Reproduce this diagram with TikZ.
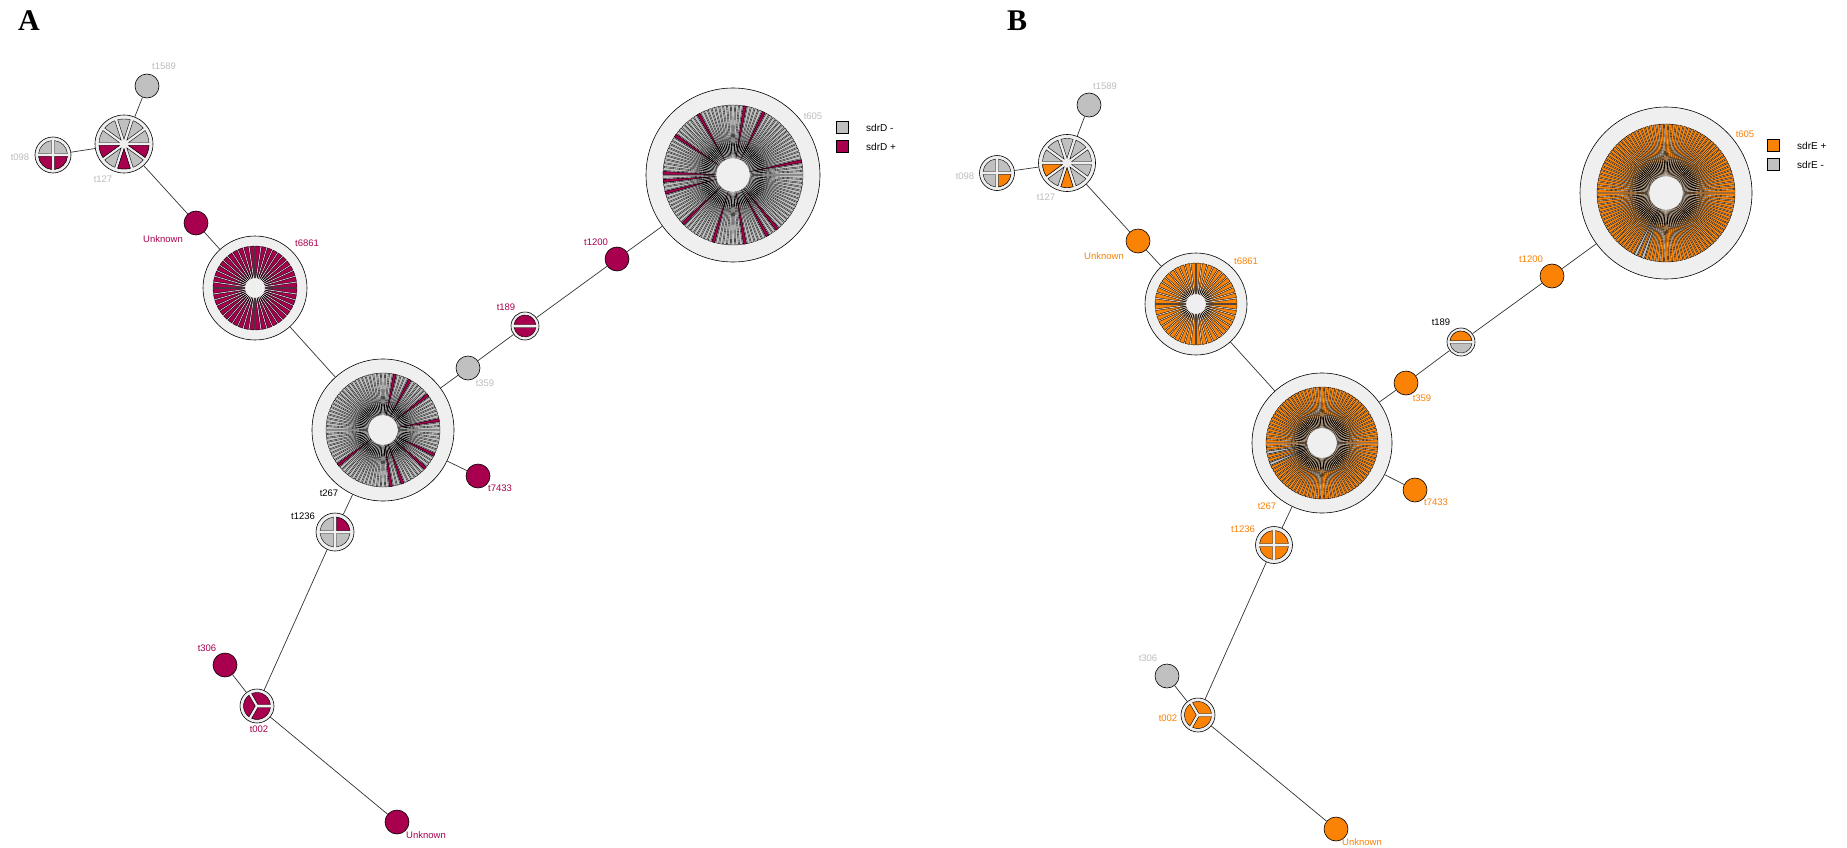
\documentclass[tikz,border=0pt]{standalone}
\usepackage{fontspec}
\setmainfont{Liberation Serif}
\newfontfamily\lblfont{Liberation Sans}
\usetikzlibrary{calc}
\definecolor{mag}{HTML}{A8004E}
\definecolor{org}{HTML}{FA8205}
\definecolor{gry}{HTML}{C0C0C0}
\definecolor{ring}{HTML}{EFEFEF}
\definecolor{lgry}{HTML}{BDBDBD}
\definecolor{edgec}{HTML}{333333}
\tikzset{
 ringnode/.style={circle, draw=black, line width=0.6pt, fill=ring, inner sep=0pt, minimum size=#1},
 dotnode/.style={circle, draw=black, line width=0.6pt, inner sep=0pt, minimum size=24pt},
 lbl/.style={font=\lblfont\fontsize{9.5}{11}\selectfont, inner sep=0pt},
 link/.style={draw=edgec, line width=0.7pt},
 wedgeline/.style={draw=black, line width=0.4pt},
 thinwedge/.style={draw=black, line width=0.35pt},
 panelletter/.style={font=\bfseries\fontsize{30}{30}\selectfont, inner sep=0pt},
 legbox/.style={draw=black, line width=0.5pt, minimum size=12pt, inner sep=0pt},
 legtext/.style={font=\lblfont\fontsize{10}{12}\selectfont, inner sep=0pt, anchor=west},
}
% one wedge: #1 node, #2 index, #3 N, #4 pie radius, #5 gap, #6 colour, #7 start angle
\newcommand\pwedge[7]{%
 \pgfmathsetmacro\pwW{360/#3}%
 \pgfmathsetmacro\pwA{#7+#2*\pwW}%
 \pgfmathsetmacro\pwB{\pwA+\pwW}%
 \pgfmathsetmacro\pwM{\pwA+\pwW/2}%
 \pgfmathsetmacro\pwD{(#5/2)/sin(\pwW/2)}%
 \pgfmathsetmacro\pwE{asin((#5/2)/#4)}%
 \pgfmathsetmacro\pwS{\pwA+\pwE}%
 \pgfmathsetmacro\pwT{\pwB-\pwE}%
 \filldraw[wedgeline, fill=#6] ($(#1)+(\pwM:\pwD)$) -- ($(#1)+(\pwS:#4)$) arc[start angle=\pwS, end angle=\pwT, radius=#4] -- cycle;%
}
% one annular wedge: #1 node, #2 index, #3 N, #4 outer radius, #5 gap, #6 colour, #7 start, #8 inner radius
\newcommand\pseg[8]{%
 \pgfmathsetmacro\pwW{360/#3}%
 \pgfmathsetmacro\pwA{#7+#2*\pwW}%
 \pgfmathsetmacro\pwB{\pwA+\pwW}%
 \pgfmathsetmacro\pwE{asin((#5/2)/#4)}%
 \pgfmathsetmacro\pwI{asin((#5/2)/#8)}%
 \pgfmathsetmacro\pwS{\pwA+\pwE}%
 \pgfmathsetmacro\pwT{\pwB-\pwE}%
 \pgfmathsetmacro\pwSi{\pwA+\pwI}%
 \pgfmathsetmacro\pwTi{\pwB-\pwI}%
 \filldraw[thinwedge, fill=#6] ($(#1)+(\pwSi:#8)$) -- ($(#1)+(\pwS:#4)$) arc[start angle=\pwS, end angle=\pwT, radius=#4] -- ($(#1)+(\pwTi:#8)$) arc[start angle=\pwTi, end angle=\pwSi, radius=#8] -- cycle;%
}
% all wedges: #1 node, #2 N, #3 radius, #4 gap, #5 colour, #6 start
\newcommand\pieall[6]{%
 \pgfmathtruncatemacro\pwN{#2-1}%
 \foreach \k in {0,...,\pwN} {\pwedge{#1}{\k}{#2}{#3}{#4}{#5}{#6}}%
}
\newcommand\segall[7]{%
 \pgfmathtruncatemacro\pwN{#2-1}%
 \foreach \k in {0,...,\pwN} {\pseg{#1}{\k}{#2}{#3}{#4}{#5}{#6}{#7}}%
}
\begin{document}
\begin{tikzpicture}[x=1pt,y=1pt]
\useasboundingbox (0,0) rectangle (1847,-848);
\fill[white] (0,0) rectangle (1847,-848);

%%%%%%%%%%%%%%%% PANEL A %%%%%%%%%%%%%%%%
\node[panelletter] (letA) at (29,-21) {A};
\node[dotnode, fill=gry] (a1589) at (147,-86) {};
\node[ringnode=58pt] (a127) at (124,-144) {};
\node[ringnode=36pt] (a098) at (53,-155) {};
\node[dotnode, fill=mag] (aunk1) at (196,-223) {};
\node[ringnode=104pt] (a6861) at (255,-288) {};
\node[ringnode=142pt] (a267) at (383,-430) {};
\node[ringnode=38pt] (a1236) at (335,-532) {};
\node[ringnode=28pt] (a189) at (525,-326) {};
\node[dotnode, fill=gry] (a359) at (468,-368) {};
\node[dotnode, fill=mag] (a1200) at (617,-259) {};
\node[ringnode=174pt] (a605) at (733,-175) {};
\node[dotnode, fill=mag] (a7433) at (478,-476) {};
\node[ringnode=34pt] (a002) at (257,-706) {};
\node[dotnode, fill=mag] (a306) at (225,-665) {};
\node[dotnode, fill=mag] (aunk2) at (397,-822) {};

\draw[link] (a1589) -- (a127);
\draw[link] (a098) -- (a127);
\draw[link] (a127) -- (aunk1);
\draw[link] (aunk1) -- (a6861);
\draw[link] (a6861) -- (a267);
\draw[link] (a267) -- (a359);
\draw[link] (a359) -- (a189);
\draw[link] (a189) -- (a1200);
\draw[link] (a1200) -- (a605);
\draw[link] (a267) -- (a7433);
\draw[link] (a267) -- (a1236);
\draw[link] (a1236) -- (a002);
\draw[link] (a002) -- (a306);
\draw[link] (a002) -- (aunk2);

\pieall{a127}{10}{25}{3}{gry}{0}
\foreach \k in {5,7,9} {\pwedge{a127}{\k}{10}{25}{3}{mag}{0}}
\pieall{a098}{4}{14.5}{3}{gry}{0}
\foreach \k in {2,3} {\pwedge{a098}{\k}{4}{14.5}{3}{mag}{0}}
\segall{a6861}{44}{42}{1.3}{mag}{0}{10}
\segall{a267}{90}{57}{1.0}{gry}{0}{15}
\foreach \k in {2,9,15,19,54,69,72,79,83} {\pseg{a267}{\k}{90}{57}{1.0}{mag}{0}{15}}
\pieall{a1236}{4}{15}{3}{gry}{0}
\pwedge{a1236}{0}{4}{15}{3}{mag}{0}
\pieall{a189}{2}{11}{3}{mag}{0}
\segall{a605}{110}{70}{1.0}{gry}{0}{17}
\foreach \k in {3,19,24,36,44,54,56,59,68,77,85,91,94} {\pseg{a605}{\k}{110}{70}{1.0}{mag}{0}{17}}
\pieall{a002}{3}{13.5}{3}{mag}{0}

\node[lbl, text=lgry] (la1589) at (164,-66) {t1589};
\node[lbl, text=lgry] (la098) at (20,-157) {t098};
\node[lbl, text=lgry] (la127) at (103,-179) {t127};
\node[lbl, text=mag] (launk1) at (163,-239) {Unknown};
\node[lbl, text=mag] (la6861) at (307,-243) {t6861};
\node[lbl, text=mag] (la189) at (506,-307) {t189};
\node[lbl, text=lgry] (la359) at (485,-383) {t359};
\node[lbl, text=mag] (la1200) at (596,-242) {t1200};
\node[lbl, text=lgry] (la605) at (813,-116) {t605};
\node[lbl, text=black] (la267) at (329,-493) {t267};
\node[lbl, text=black] (la1236) at (303,-516) {t1236};
\node[lbl, text=mag] (la7433) at (500,-488) {t7433};
\node[lbl, text=mag] (la306) at (207,-648) {t306};
\node[lbl, text=mag] (la002) at (259,-729) {t002};
\node[lbl, text=mag] (launk2) at (426,-835) {Unknown};

\node[legbox, fill=gry] (alg1) at (842,-127) {};
\node[legbox, fill=mag] (alg2) at (842,-146) {};
\node[legtext] (alt1) at (866,-128) {sdrD -};
\node[legtext] (alt2) at (866,-147) {sdrD +};

%%%%%%%%%%%%%%%% PANEL B %%%%%%%%%%%%%%%%
\node[panelletter] (letB) at (1017,-21) {B};
\node[dotnode, fill=gry] (b1589) at (1089,-105) {};
\node[ringnode=57pt] (b127) at (1067,-163) {};
\node[ringnode=35pt] (b098) at (997,-173) {};
\node[dotnode, fill=org] (bunk1) at (1138,-241) {};
\node[ringnode=102pt] (b6861) at (1196,-304) {};
\node[ringnode=140pt] (b267) at (1322,-443) {};
\node[ringnode=37pt] (b1236) at (1274,-545) {};
\node[ringnode=28pt] (b189) at (1461,-342) {};
\node[dotnode, fill=org] (b359) at (1406,-383) {};
\node[dotnode, fill=org] (b1200) at (1552,-276) {};
\node[ringnode=172pt] (b605) at (1666,-193) {};
\node[dotnode, fill=org] (b7433) at (1415,-490) {};
\node[ringnode=34pt] (b002) at (1198,-715) {};
\node[dotnode, fill=gry] (b306) at (1167,-676) {};
\node[dotnode, fill=org] (bunk2) at (1336,-829) {};

\draw[link] (b1589) -- (b127);
\draw[link] (b098) -- (b127);
\draw[link] (b127) -- (bunk1);
\draw[link] (bunk1) -- (b6861);
\draw[link] (b6861) -- (b267);
\draw[link] (b267) -- (b359);
\draw[link] (b359) -- (b189);
\draw[link] (b189) -- (b1200);
\draw[link] (b1200) -- (b605);
\draw[link] (b267) -- (b7433);
\draw[link] (b267) -- (b1236);
\draw[link] (b1236) -- (b002);
\draw[link] (b002) -- (b306);
\draw[link] (b002) -- (bunk2);

\pieall{b127}{10}{24.5}{3}{gry}{0}
\foreach \k in {5,7} {\pwedge{b127}{\k}{10}{24.5}{3}{org}{0}}
\pieall{b098}{4}{14}{3}{gry}{0}
\pwedge{b098}{3}{4}{14}{3}{org}{0}
\segall{b6861}{44}{41}{1.3}{org}{0}{10}
\segall{b267}{90}{56}{1.0}{org}{0}{15}
\foreach \k in {47,50} {\pseg{b267}{\k}{90}{56}{1.0}{gry}{0}{15}}
\pieall{b1236}{4}{14.5}{3}{org}{0}
\pieall{b189}{2}{11}{3}{gry}{0}
\pwedge{b189}{0}{2}{11}{3}{org}{0}
\segall{b605}{110}{69}{1.0}{org}{0}{17}
\foreach \k in {74,76} {\pseg{b605}{\k}{110}{69}{1.0}{gry}{0}{17}}
\pieall{b002}{3}{13.5}{3}{org}{0}

\node[lbl, text=lgry] (lb1589) at (1105,-86) {t1589};
\node[lbl, text=lgry] (lb098) at (965,-176) {t098};
\node[lbl, text=lgry] (lb127) at (1046,-197) {t127};
\node[lbl, text=org] (lbunk1) at (1104,-256) {Unknown};
\node[lbl, text=org] (lb6861) at (1246,-261) {t6861};
\node[lbl, text=black] (lb189) at (1441,-322) {t189};
\node[lbl, text=org] (lb359) at (1422,-398) {t359};
\node[lbl, text=org] (lb1200) at (1531,-259) {t1200};
\node[lbl, text=org] (lb605) at (1745,-134) {t605};
\node[lbl, text=org] (lb267) at (1267,-506) {t267};
\node[lbl, text=org] (lb1236) at (1243,-529) {t1236};
\node[lbl, text=org] (lb7433) at (1436,-502) {t7433};
\node[lbl, text=lgry] (lb306) at (1148,-658) {t306};
\node[lbl, text=org] (lb002) at (1168,-718) {t002};
\node[lbl, text=org] (lbunk2) at (1362,-842) {Unknown};

\node[legbox, fill=org] (blg1) at (1773,-145) {};
\node[legbox, fill=gry] (blg2) at (1773,-164) {};
\node[legtext] (blt1) at (1797,-146) {sdrE +};
\node[legtext] (blt2) at (1797,-165) {sdrE -};
\end{tikzpicture}
\end{document}
